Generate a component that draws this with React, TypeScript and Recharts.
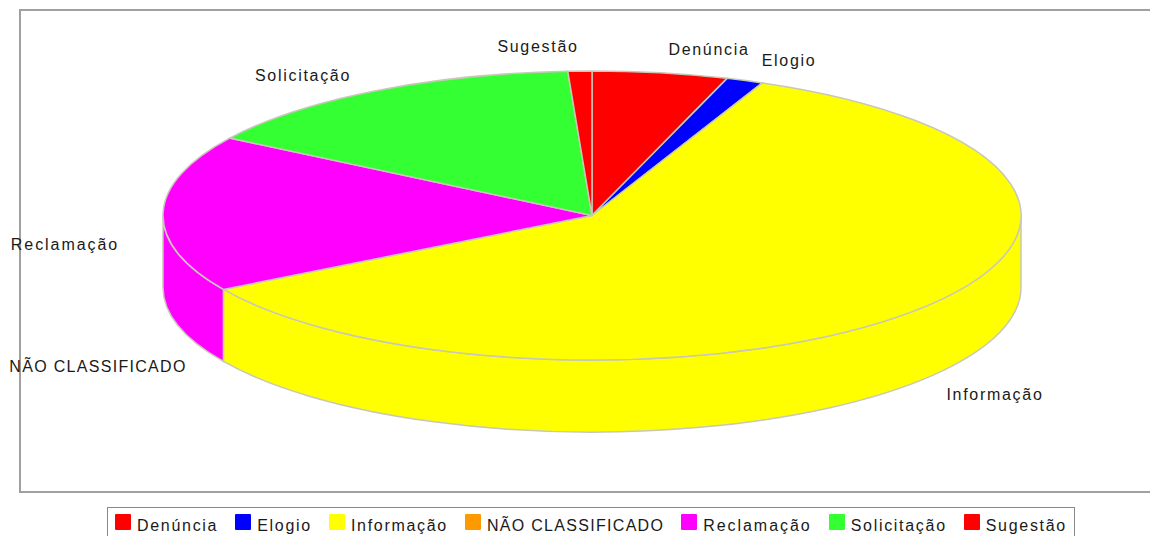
import { PieChart, Pie, Legend } from "recharts";

const categories = ["Denúncia", "Elogio", "Informação", "NÃO CLASSIFICADO", "Reclamação", "Solicitação", "Sugestão"];
const shares = [5.1, 1.4, 59.95, 0, 17.55, 15.1, 0.9];
const colors = ["#ff0000", "#0000ff", "#ffff00", "#ff9900", "#ff00ff", "#33ff33", "#ff0000"];

const tableData = categories.map((name, i) => ({ name, value: shares[i], fill: colors[i] }));

const SQUASH = 144.5 / 429;
const DEPTH = 72;
const EDGE = "#c8c8b8";

// where the label text sits, the old chart pushed them around by hand
const labelSpots: Record<string, [number, number]> = {
  "Denúncia": [709, 55],
  "Elogio": [789, 66],
  "Informação": [995, 400],
  "NÃO CLASSIFICADO": [98, 372],
  "Reclamação": [65, 250],
  "Solicitação": [303, 81],
  "Sugestão": [538, 52],
};

const rad = (a: number) => (a * Math.PI) / 180;

const spacing = (name: string) => {
  if (name === "NÃO CLASSIFICADO") return 1.3;
  if (name === "Reclamação") return 1.95;
  return 1.7;
};

const textStyle = (name: string) => ({
  fontFamily: "Liberation Sans",
  fontSize: 16,
  letterSpacing: spacing(name),
});

function Slice3D(props: any) {
  const { cx, cy, outerRadius: r, startAngle, endAngle, fill } = props;
  if (Math.abs(startAngle - endAngle) < 0.01) return null;
  const ry = r * SQUASH;
  const pt = (a: number, dy = 0) => `${cx + r * Math.cos(rad(a))} ${cy - ry * Math.sin(rad(a)) + dy}`;
  const large = startAngle - endAngle > 180 ? 1 : 0;
  const top = `M ${cx} ${cy} L ${pt(startAngle)} A ${r} ${ry} 0 ${large} 1 ${pt(endAngle)} Z`;

  // side wall only for the front half of the ellipse
  const hi = Math.min(startAngle, 0);
  const lo = Math.max(endAngle, -180);
  let wall = null;
  if (hi > lo) {
    wall = (
      <path
        d={`M ${pt(hi)} A ${r} ${ry} 0 0 1 ${pt(lo)} L ${pt(lo, DEPTH)} A ${r} ${ry} 0 0 0 ${pt(hi, DEPTH)} Z`}
        fill={fill}
        stroke={EDGE}
        strokeWidth={1.5}
      />
    );
  }
  return (
    <g>
      {wall}
      <path d={top} fill={fill} stroke={EDGE} strokeWidth={1.5} />
    </g>
  );
}

function sliceLabel(props: any) {
  const spot = labelSpots[props.name];
  return (
    <text x={spot[0]} y={spot[1]} textAnchor="middle" fill="#1a1a1a" style={textStyle(props.name)}>
      {props.name}
    </text>
  );
}

function LegendBox(props: any) {
  const items = props.payload || [];
  return (
    <div
      style={{
        display: "flex",
        alignItems: "center",
        height: 29,
        border: "1px solid #888",
        borderBottom: "none",
        boxSizing: "border-box",
        paddingLeft: 7,
        color: "#1a1a1a",
        whiteSpace: "nowrap",
      }}
    >
      {items.map((it: any) => (
        <span key={it.value} style={{ display: "flex", alignItems: "center", marginRight: 17 }}>
          <span style={{ width: 16, height: 16, borderRadius: 1, background: it.color, marginRight: 6 }} />
          <span style={{ ...textStyle(it.value), position: "relative", top: 4 }}>{it.value}</span>
        </span>
      ))}
    </div>
  );
}

export default function App() {
  return (
    <div style={{ position: "absolute", left: 0, top: 0, width: 1150, height: 536, background: "#fff", overflow: "hidden" }}>
      <div
        style={{
          position: "absolute",
          left: 19,
          top: 9,
          width: 1150,
          height: 484,
          boxSizing: "border-box",
          border: "2px solid #a0a0a0",
        }}
      />
      <PieChart width={1150} height={536} margin={{ top: 0, right: 0, bottom: 0, left: 0 }}>
        <Pie
          data={tableData}
          dataKey="value"
          nameKey="name"
          cx={592}
          cy={215.5}
          outerRadius={429}
          startAngle={90}
          endAngle={-270}
          shape={Slice3D}
          label={sliceLabel}
          labelLine={false}
          isAnimationActive={false}
        />
        <Legend
          content={<LegendBox />}
          wrapperStyle={{ position: "absolute", left: 107, top: 507, width: 968, height: 29, bottom: "auto" }}
        />
      </PieChart>
    </div>
  );
}
